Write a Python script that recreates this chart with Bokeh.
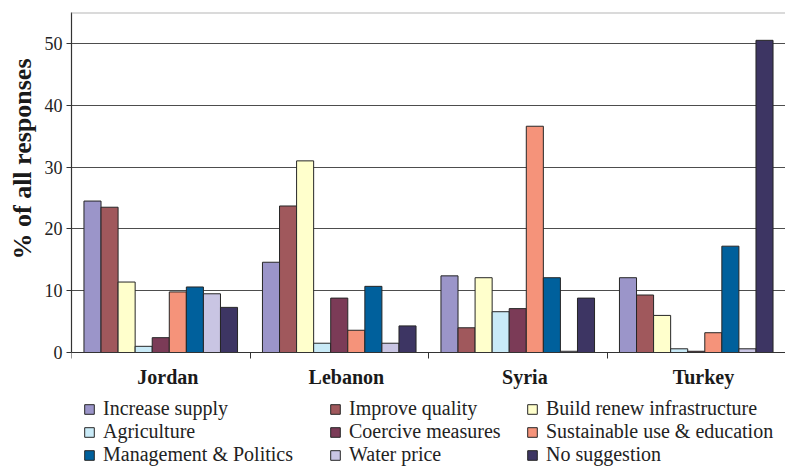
from bokeh.plotting import figure
from bokeh.models import ColumnDataSource, Range1d, FixedTicker, Legend, LegendItem, Span, Title
from bokeh.transform import dodge
from bokeh.embed import file_html
from bokeh.resources import INLINE

# ---- data ----
countries = ["Jordan", "Lebanon", "Syria", "Turkey"]
increase_supply = [24.5, 14.6, 12.4, 12.1]
improve_quality = [23.5, 23.7, 4.0, 9.3]
build_renew_infrastructure = [11.4, 31.0, 12.1, 6.0]
agriculture = [1.0, 1.5, 6.6, 0.6]
coercive_measures = [2.4, 8.8, 7.1, 0.2]
sustainable_use_education = [9.8, 3.6, 36.6, 3.2]
management_politics = [10.6, 10.7, 12.1, 17.2]
water_price = [9.5, 1.5, 0.2, 0.6]
no_suggestion = [7.3, 4.3, 8.8, 50.5]

series_names = ["Increase supply", "Improve quality", "Build renew infrastructure",
                "Agriculture", "Coercive measures", "Sustainable use & education",
                "Management & Politics", "Water price", "No suggestion"]
series_values = [increase_supply, improve_quality, build_renew_infrastructure,
                 agriculture, coercive_measures, sustainable_use_education,
                 management_politics, water_price, no_suggestion]
series_colors = ["#9b95c9", "#a0585c", "#ffffcc", "#c9eaf7", "#7b3b57",
                 "#f5937a", "#00609c", "#c9c5e3", "#3d3563"]
y_ticks = [0, 10, 20, 30, 40, 50]
y_label = "% of all responses"

# ---- layout constants ----
CAT = 100          # width of one country slot in x units
BAR_W = 9.56       # bar width in x units
LABEL_SHIFT = 4    # small offset of the category labels
Y_TOP = 55
Y_BOTTOM = -18.44  # room below zero for the category labels and legend

cols = {"xc": [i * CAT + CAT // 2 for i in range(len(countries))]}
for k, vals in enumerate(series_values):
    cols[f"s{k}"] = vals
src = ColumnDataSource(cols)

p = figure(width=785, height=466, x_range=Range1d(0, CAT * len(countries)),
           y_range=Range1d(Y_BOTTOM, Y_TOP), output_backend="svg", toolbar_location=None,
           min_border_left=71, min_border_right=0, min_border_top=12,
           min_border_bottom=0)
p.outline_line_color = None
p.background_fill_color = "white"
p.border_fill_color = "white"

renderers = []
for k, (name, color) in enumerate(zip(series_names, series_colors)):
    r = p.vbar(x=dodge("xc", (k - 4) * BAR_W), top=f"s{k}", bottom=0, width=BAR_W,
               source=src, fill_color=color, line_color="#262626", line_width=1)
    renderers.append(r)

# grid / frame
p.xgrid.visible = False
p.ygrid.ticker = FixedTicker(ticks=y_ticks)
p.ygrid.grid_line_color = "#4d4d4d"
p.ygrid.grid_line_width = 1.2
p.add_layout(Span(location=Y_TOP, dimension="width", line_color="#b5b5b5", line_width=2))

# y axis
p.yaxis.ticker = FixedTicker(ticks=y_ticks)
p.yaxis.bounds = (0, Y_TOP)
p.yaxis.axis_line_color = "#333333"
p.yaxis.axis_line_width = 1.2
p.yaxis.major_tick_out = 5
p.yaxis.major_tick_in = 0
p.yaxis.minor_tick_out = 0
p.yaxis.minor_tick_in = 0
p.yaxis.major_tick_line_color = "#333333"
p.yaxis.major_label_text_font = "Liberation Serif"
p.yaxis.major_label_text_font_size = "18px"
p.yaxis.major_label_text_color = "#222222"
p.yaxis.major_label_standoff = 4

ytitle = Title(text=y_label, align="right", offset=46, standoff=10,
               text_font="Liberation Serif", text_font_style="bold",
               text_font_size="26px", text_color="#1a1a1a")
p.add_layout(ytitle, "left")

# x axis at zero: labels at country centres, ticks at slot boundaries
label_ticks = [i * CAT + CAT // 2 + LABEL_SHIFT for i in range(len(countries))]
p.xaxis.fixed_location = 0
p.xaxis.ticker = FixedTicker(ticks=label_ticks,
                             minor_ticks=[i * CAT for i in range(len(countries) + 1)])
p.xaxis.major_label_overrides = {t: c for t, c in zip(label_ticks, countries)}
p.xaxis.axis_line_color = "#333333"
p.xaxis.axis_line_width = 1.2
p.xaxis.major_tick_out = 0
p.xaxis.major_tick_in = 0
p.xaxis.minor_tick_out = 6
p.xaxis.minor_tick_in = 0
p.xaxis.minor_tick_line_color = "#333333"
p.xaxis.major_label_text_font = "Liberation Serif"
p.xaxis.major_label_text_font_style = "bold"
p.xaxis.major_label_text_font_size = "20px"
p.xaxis.major_label_text_color = "#1a1a1a"
p.xaxis.major_label_standoff = 7

# legend: three columns, placed below the axis
col_x = [12, 258, 455]
for c in range(3):
    items = [LegendItem(label=series_names[k], renderers=[renderers[k]])
             for k in (c, c + 3, c + 6)]
    lg = Legend(items=items, location=(col_x[c], 0), orientation="vertical",
                glyph_width=12, glyph_height=12, label_height=19, spacing=0,
                label_standoff=8, padding=0, margin=0, border_line_color=None,
                background_fill_alpha=0, label_text_font="Liberation Serif",
                label_text_font_size="20px", label_text_color="#222222")
    p.add_layout(lg, "center")

open("out.html", "w").write(file_html(p, INLINE))
